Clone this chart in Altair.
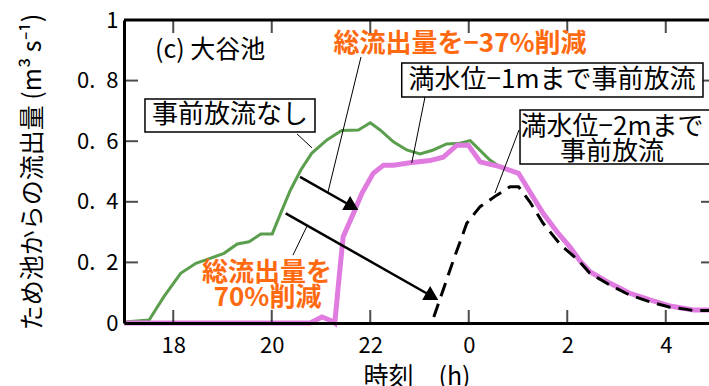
import altair as alt
import pandas as pd

FONT = "Noto Sans CJK JP"

# ---- data: time in hours (24 = midnight of next day), outflow in m3/s ----
green_t = [17.00, 17.51, 17.81, 18.15, 18.46, 18.69, 19.03, 19.30, 19.54, 19.78, 20.01, 20.18,
           20.38, 20.59, 20.81, 21.12, 21.42, 21.76, 22.00, 22.20, 22.47, 22.74, 23.01, 23.28,
           23.55, 23.82, 24.03, 24.43, 24.63, 25.01]
green_q = [0.003, 0.010, 0.087, 0.164, 0.197, 0.210, 0.230, 0.261, 0.268, 0.294, 0.294, 0.362,
           0.439, 0.505, 0.560, 0.604, 0.635, 0.637, 0.661, 0.637, 0.598, 0.571, 0.558, 0.571,
           0.591, 0.593, 0.602, 0.538, 0.516, 0.494]

pink_t = [17.00, 20.78, 21.02, 21.24, 21.28, 21.35, 21.45, 21.66, 21.83, 22.06, 22.27, 22.47,
          22.81, 23.21, 23.48, 23.76, 23.99, 24.23, 24.63, 25.01, 25.24, 25.51, 25.79, 26.06,
          26.26, 26.46, 26.87, 27.27, 27.68, 28.09, 28.56, 28.88]
pink_q = [0.000, 0.000, 0.020, 0.005, 0.000, 0.121, 0.285, 0.362, 0.428, 0.494, 0.521, 0.521,
          0.529, 0.536, 0.547, 0.587, 0.587, 0.532, 0.516, 0.494, 0.433, 0.362, 0.301, 0.250,
          0.205, 0.169, 0.131, 0.098, 0.076, 0.056, 0.043, 0.043]

dash_t = [23.29, 23.69, 23.96, 24.23, 24.57, 24.84, 25.01, 25.24, 25.51, 25.88, 26.22, 26.46,
          26.87, 27.27, 27.68, 28.09, 28.43, 28.56, 28.88]
dash_q = [0.020, 0.208, 0.329, 0.384, 0.422, 0.450, 0.450, 0.400, 0.329, 0.255, 0.208, 0.164,
          0.125, 0.092, 0.070, 0.052, 0.045, 0.041, 0.041]

x_ticks = [18, 20, 22, 24, 26, 28]
y_ticks = [0, 0.2, 0.4, 0.6, 0.8, 1]
x_min, x_max = 17, 28.878

# annotation anchors (data units)
arrow_t = [20.574, 20.283]
arrow_q = [0.482, 0.362]
arrow_t2 = [21.634, 23.258]
arrow_q2 = [0.3845, 0.0875]

leader_t = [20.513, 21.812, 20.431, 23.112, 25.020]
leader_q = [0.624, 0.878, 0.224, 0.746, 0.637]
leader_t2 = [20.817, 21.142, 20.716, 22.842, 24.533]
leader_q2 = [0.578, 0.432, 0.320, 0.528, 0.429]

box_t = [17.426, 22.639, 25.041]
box_t2 = [20.878, 28.756, 28.900]
box_q = [0.739, 0.858, 0.703]
box_q2 = [0.630, 0.746, 0.525]

box_text = ["事前放流なし", "満水位−1mまで事前放流", "満水位−2mまで", "事前放流"]
box_text_t = [19.152, 25.690, 26.909, 26.909]
box_text_q = [0.685, 0.802, 0.647, 0.564]

orange_text = ["総流出量を−37%削減", "総流出量を", "70%削減"]
orange_t = [23.822, 19.904, 19.914]
orange_q = [0.921, 0.165, 0.0825]

panel_label = ["(c) 大谷池"]
panel_t = [17.629]
panel_q = [0.901]

# ---- scales / axes ----
xs = alt.Scale(domain=[x_min, x_max], nice=False, zero=False)
ys = alt.Scale(domain=[0, 1], nice=False, zero=False)

xaxis = alt.Axis(values=x_ticks,
                 labelExpr="datum.value >= 24 ? '' + (datum.value - 24) : '' + datum.value",
                 ticks=False, grid=False, domain=True, domainColor="black", domainWidth=3,
                 labelFont=FONT, labelFontSize=22, labelColor="black", labelPadding=12,
                 labelFlush=False, zindex=1,
                 title="時刻\u3000(h)", titleFont=FONT, titleFontSize=25, titleFontWeight="normal",
                 titleColor="black", titleY=53, titleBaseline="middle")
yaxis = alt.Axis(values=y_ticks,
                 labelExpr="datum.value == 0 ? '0' : datum.value == 1 ? '1' : replace(format(datum.value, '.1f'), '.', '.\u2002')",
                 ticks=False, grid=False, domain=True, domainColor="black", domainWidth=3,
                 labelFont=FONT, labelFontSize=22, labelColor="black", labelPadding=6,
                 labelFlush=False, zindex=1,
                 title="ため池からの流出量 (m³ s⁻¹)", titleFont=FONT, titleFontSize=25,
                 titleFontWeight="normal", titleColor="black", titleAngle=-90,
                 titleX=-92, titleY=151.5, titleAlign="center", titleBaseline="middle")


def X():
    return alt.X("t:Q", scale=xs, axis=xaxis)


def Y():
    return alt.Y("q:Q", scale=ys, axis=yaxis)


green = alt.Chart(pd.DataFrame({"t": green_t, "q": green_q})).mark_line(
    color="#5a9e4e", strokeWidth=3).encode(x=X(), y=Y())
pink = alt.Chart(pd.DataFrame({"t": pink_t, "q": pink_q})).mark_line(
    color="#e07be0", strokeWidth=5).encode(x=X(), y=Y())
dash = alt.Chart(pd.DataFrame({"t": dash_t, "q": dash_q})).mark_line(
    color="black", strokeWidth=3, strokeDash=[14, 8]).encode(x=X(), y=Y())

top_rule = alt.Chart(pd.DataFrame({"q": [1]})).mark_rule(
    color="black", strokeWidth=3).encode(y=Y())

inner_y = [v for v in y_ticks if 0 < v < 1]
lr_ticks = alt.Chart(pd.DataFrame({
    "t": [x_min] * len(inner_y) + [29] * len(inner_y),
    "q": inner_y + inner_y})).mark_tick(
    orient="horizontal", size=28, thickness=2, color="black", clip=True).encode(x=X(), y=Y())
tb_ticks = alt.Chart(pd.DataFrame({
    "t": x_ticks + x_ticks,
    "q": [0] * len(x_ticks) + [1] * len(x_ticks)})).mark_tick(
    orient="vertical", size=26, thickness=2, color="black", clip=True).encode(x=X(), y=Y())

arrows_df = pd.DataFrame({"t": arrow_t, "q": arrow_q, "t2": arrow_t2, "q2": arrow_q2})
arrow_lines = alt.Chart(arrows_df).mark_rule(color="black", strokeWidth=2.5).encode(
    x=X(), y=Y(), x2="t2:Q", y2="q2:Q")
arrow_heads = alt.Chart(pd.DataFrame({"t": arrow_t2, "q": arrow_q2})).mark_point(
    shape="triangle-up", size=260, filled=True, color="black", opacity=1,
    angle=119.6).encode(x=X(), y=Y())

leaders = alt.Chart(pd.DataFrame({"t": leader_t, "q": leader_q, "t2": leader_t2,
                                  "q2": leader_q2})).mark_rule(
    color="black", strokeWidth=1).encode(x=X(), y=Y(), x2="t2:Q", y2="q2:Q")

boxes = alt.Chart(pd.DataFrame({"t": box_t, "t2": box_t2, "q": box_q, "q2": box_q2})).mark_rect(
    fill="white", stroke="black", strokeWidth=1.5, clip=True).encode(
    x=X(), x2="t2:Q", y=Y(), y2="q2:Q")

box_texts = alt.Chart(pd.DataFrame({"t": box_text_t, "q": box_text_q, "s": box_text})).mark_text(
    font=FONT, fontSize=26, color="black", align="center", baseline="middle").encode(
    x=X(), y=Y(), text="s:N")

orange = alt.Chart(pd.DataFrame({"t": orange_t, "q": orange_q, "s": orange_text})).mark_text(
    font=FONT, fontSize=26, fontWeight="bold", color="#ff6a10", align="center",
    baseline="middle").encode(x=X(), y=Y(), text="s:N")

panel = alt.Chart(pd.DataFrame({"t": panel_t, "q": panel_q, "s": panel_label})).mark_text(
    font=FONT, fontSize=25, color="black", align="left", baseline="middle").encode(
    x=X(), y=Y(), text="s:N")

chart = alt.layer(
    green, pink, dash, top_rule, lr_ticks, tb_ticks, leaders, arrow_lines, arrow_heads,
    boxes, box_texts, orange, panel
).properties(
    width=585, height=303,
    autosize=alt.AutoSizeParams(type="none"),
    padding={"left": 124, "top": 20, "right": 0, "bottom": 63},
    background="white",
).configure_view(stroke=None)

chart.save("out.html", embed_options={"renderer": "svg", "actions": False})
